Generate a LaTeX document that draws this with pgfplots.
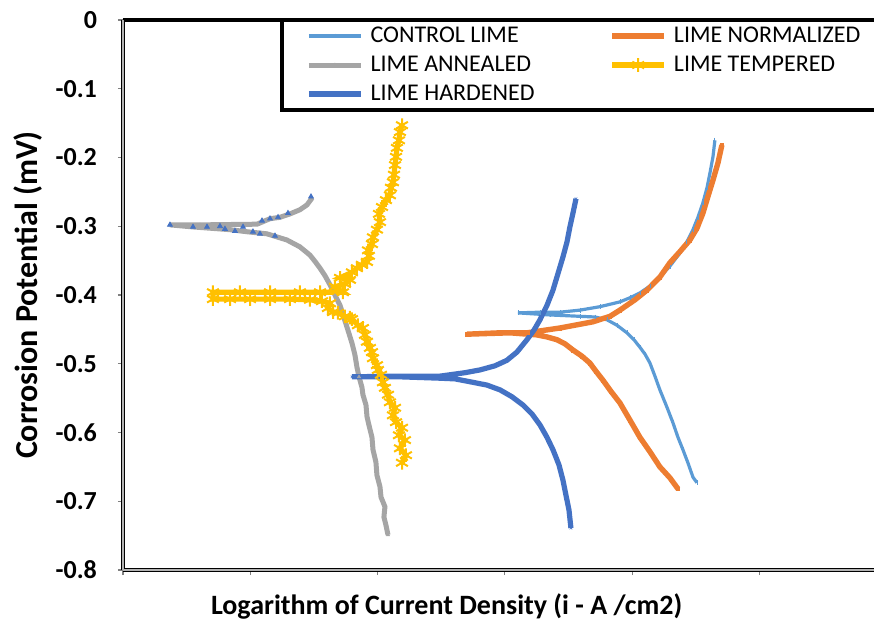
\documentclass[border=0pt]{standalone}
\usepackage{pgfplots}
\pgfplotsset{compat=1.18}
\usepackage{fontspec}
\setmainfont{Carlito}
\definecolor{cCtrl}{HTML}{5B9BD5}
\definecolor{cNorm}{HTML}{ED7D31}
\definecolor{cAnn}{HTML}{A5A5A5}
\definecolor{cTemp}{HTML}{FFC000}
\definecolor{cHard}{HTML}{4472C4}
\begin{document}
\begin{tikzpicture}
\begin{axis}[
  name=ax,
  at={(0,0)}, anchor=south west,
  scale only axis, width=375.5pt, height=275pt,
  xmin=0, xmax=5.9, ymin=-0.8, ymax=0,
  axis x line*=bottom, axis y line*=left,
  axis line style={line width=2.4pt, black},
  xtick={0,1,2,3,4,5}, xticklabels={},
  ytick={-0.8,-0.7,-0.6,-0.5,-0.4,-0.3,-0.2,-0.1,0},
  yticklabels={-0.8,-0.7,-0.6,-0.5,-0.4,-0.3,-0.2,-0.1,0},
  yticklabel style={font=\fontsize{13}{15}\selectfont\bfseries, xshift=-7pt},
  tick align=outside, major tick length=2.5pt,
  tick style={gray, line width=0.6pt},
  xlabel={Logarithm of Current Density (i - A /cm2)},
  ylabel={Corrosion Potential (mV)},
  xlabel style={font=\fontsize{14}{17}\selectfont\bfseries, at={(axis description cs:0.431,-0.0655)}, anchor=center},
  ylabel style={font=\fontsize{16}{19}\selectfont\bfseries, at={(axis description cs:-0.1265,0.5)}, anchor=center},
  legend columns=2,
  legend cell align=left,
  legend style={at={(axis description cs:0.2095,1.0036)}, anchor=north west,
    draw=black, line width=2pt, inner xsep=12pt, inner ysep=2pt,
    font=\fontsize{12}{14}\selectfont,
    nodes={inner sep=0pt, text height=9pt, text depth=3pt},
    column sep=3.5pt, row sep=2.5pt},
  legend image code/.code={\draw[#1, mark repeat=2, mark phase=2] plot coordinates {(0pt,0pt) (13pt,0pt) (26pt,0pt)};},
]
% CONTROL LIME
\addplot[cCtrl, line width=1.6pt, mark=|, mark size=1.2pt, mark options={solid, line width=0.4pt}] coordinates {
(4.509,-0.673) (4.478,-0.665) (4.438,-0.644) (4.399,-0.625) (4.360,-0.607)
(4.321,-0.586) (4.273,-0.563) (4.218,-0.538) (4.179,-0.518) (4.140,-0.499)
(4.101,-0.486) (4.061,-0.476) (4.014,-0.465) (3.959,-0.455) (3.881,-0.444)
(3.802,-0.436) (3.708,-0.432) (3.590,-0.431) (3.354,-0.429) (3.103,-0.426)
(3.276,-0.425) (3.433,-0.425) (3.590,-0.422) (3.747,-0.417) (3.904,-0.410)
(3.983,-0.404) (4.061,-0.397) (4.140,-0.387) (4.218,-0.374) (4.297,-0.358)
(4.375,-0.339) (4.430,-0.323) (4.478,-0.305) (4.517,-0.287) (4.556,-0.266)
(4.588,-0.244) (4.611,-0.223) (4.635,-0.199) (4.650,-0.175)
};
\addlegendentry{\makebox[116pt][l]{CONTROL LIME}}
% LIME NORMALIZED
\addplot[cNorm, line width=2.7pt, mark=square*, mark size=0.9pt, mark options={solid, line width=0.3pt}] coordinates {
(4.360,-0.682) (4.297,-0.666) (4.218,-0.650) (4.140,-0.628) (4.061,-0.607)
(3.983,-0.582) (3.904,-0.557) (3.833,-0.540) (3.771,-0.524) (3.716,-0.511)
(3.668,-0.499) (3.606,-0.489) (3.535,-0.480) (3.472,-0.471) (3.409,-0.465)
(3.331,-0.461) (3.252,-0.458) (3.040,-0.455) (2.702,-0.457)
(2.962,-0.455) (3.174,-0.455) (3.433,-0.448) (3.692,-0.439) (3.826,-0.431)
(3.904,-0.422) (4.022,-0.407) (4.116,-0.393) (4.218,-0.374) (4.297,-0.353)
(4.375,-0.337) (4.454,-0.320) (4.509,-0.303) (4.556,-0.281) (4.595,-0.257)
(4.635,-0.233) (4.674,-0.208) (4.705,-0.182)
};
\addlegendentry{\makebox[140pt][l]{LIME NORMALIZED}}
% LIME ANNEALED
\addplot[cAnn, line width=2.5pt, mark=triangle*, mark size=0.9pt, mark options={solid, line width=0.3pt}] coordinates {
(2.082,-0.749) (2.066,-0.735) (2.050,-0.723) (2.058,-0.708) (2.027,-0.694)
(2.019,-0.679) (1.995,-0.662) (1.987,-0.643) (1.964,-0.625) (1.956,-0.607)
(1.932,-0.589) (1.917,-0.577) (1.909,-0.560) (1.885,-0.545) (1.877,-0.534)
(1.854,-0.519) (1.838,-0.505) (1.822,-0.487) (1.799,-0.470) (1.767,-0.451)
(1.736,-0.433) (1.705,-0.415) (1.665,-0.400) (1.626,-0.385) (1.587,-0.372)
(1.548,-0.361) (1.508,-0.351) (1.469,-0.342) (1.390,-0.330) (1.288,-0.320)
(1.131,-0.311) (0.974,-0.308) (0.841,-0.305) (0.550,-0.301) (0.369,-0.298)
(0.605,-0.298) (1.053,-0.297) (1.155,-0.289) (1.233,-0.287) (1.312,-0.282)
(1.390,-0.276) (1.445,-0.269) (1.485,-0.259)
};
\addlegendentry{LIME ANNEALED}
\addplot[only marks, mark=triangle*, mark size=1.4pt, color=cHard, forget plot] coordinates {
(0.369,-0.298) (0.550,-0.301) (0.660,-0.301) (0.762,-0.300) (0.801,-0.304)
(0.880,-0.307) (0.943,-0.301) (1.021,-0.308) (1.076,-0.311) (1.194,-0.314)
(1.092,-0.292) (1.155,-0.289) (1.218,-0.287) (1.296,-0.281) (1.477,-0.257)
};
% LIME TEMPERED
\addplot[cTemp, line width=2.6pt, mark=asterisk, mark size=3.4pt, mark options={solid, line width=1pt}] coordinates {
(2.192,-0.644) (2.223,-0.633) (2.176,-0.623) (2.215,-0.611) (2.168,-0.604)
(2.192,-0.593) (2.145,-0.585) (2.121,-0.575) (2.137,-0.564) (2.097,-0.556)
(2.082,-0.545) (2.058,-0.535) (2.042,-0.527) (2.027,-0.516) (2.003,-0.509)
(1.995,-0.502) (1.964,-0.492) (1.956,-0.483) (1.940,-0.477) (1.917,-0.468)
(1.901,-0.458) (1.885,-0.448) (1.846,-0.444) (1.799,-0.435) (1.783,-0.433)
(1.744,-0.431) (1.689,-0.426) (1.650,-0.425) (1.610,-0.419) (1.626,-0.412)
(1.563,-0.409) (1.469,-0.407) (1.312,-0.406) (1.155,-0.406) (0.998,-0.406)
(0.841,-0.406) (0.707,-0.406) (0.707,-0.396) (0.919,-0.396) (1.155,-0.396)
(1.390,-0.396) (1.548,-0.396) (1.728,-0.396) (1.665,-0.388) (1.744,-0.384)
(1.783,-0.378) (1.705,-0.375) (1.799,-0.367) (1.838,-0.361) (1.877,-0.356)
(1.917,-0.352) (1.932,-0.343) (1.925,-0.335) (1.956,-0.326) (1.964,-0.316)
(1.995,-0.305) (2.019,-0.294) (2.011,-0.282) (2.035,-0.272) (2.066,-0.262)
(2.097,-0.255) (2.105,-0.244) (2.121,-0.236) (2.129,-0.225) (2.137,-0.211)
(2.145,-0.199) (2.152,-0.186) (2.168,-0.175) (2.176,-0.163) (2.192,-0.153)
};
\addlegendentry{LIME TEMPERED}
% LIME HARDENED
\addplot[cHard, line width=2.6pt, mark=x, mark size=0.9pt, mark options={solid, line width=0.3pt}] coordinates {
(3.519,-0.739) (3.504,-0.713) (3.480,-0.691) (3.456,-0.669) (3.425,-0.647)
(3.378,-0.625) (3.331,-0.607) (3.276,-0.589) (3.213,-0.573) (3.142,-0.560)
(3.056,-0.548) (2.962,-0.538) (2.859,-0.531) (2.749,-0.527) (2.608,-0.522)
(2.490,-0.521) (2.176,-0.519) (1.799,-0.519)
(2.176,-0.518) (2.490,-0.518) (2.687,-0.513) (2.804,-0.509) (2.922,-0.503)
(3.016,-0.495) (3.095,-0.483) (3.174,-0.465) (3.229,-0.451) (3.276,-0.436)
(3.331,-0.415) (3.378,-0.393) (3.417,-0.369) (3.456,-0.345) (3.488,-0.323)
(3.511,-0.301) (3.535,-0.281) (3.559,-0.260)
};
\addlegendentry{LIME HARDENED}
\end{axis}
\draw[black, line width=2pt] (ax.north west) -- (ax.north east);
\draw[gray!60, line width=0.6pt] (ax.south west) -- (ax.north west);
\draw[gray!60, line width=0.6pt] (ax.south west) -- (ax.south east);
\pgfresetboundingbox
\path[use as bounding box] (-61.5pt,-26.5pt) rectangle (375.5pt,285pt);
\end{tikzpicture}
\end{document}
